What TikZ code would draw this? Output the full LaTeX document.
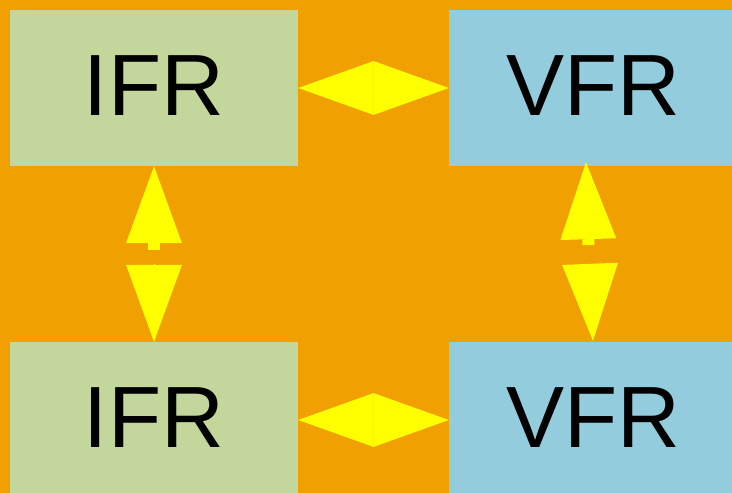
\documentclass[tikz,border=0pt]{standalone}
\usepackage{fontspec}
\setmainfont{Liberation Sans}
\usetikzlibrary{arrows.meta}
\definecolor{bgorange}{HTML}{F0A000}
\definecolor{ifrgreen}{HTML}{C3D69B}
\definecolor{vfrblue}{HTML}{93CDDD}
\definecolor{tipyellow}{HTML}{FFFF00}

\begin{document}
\begin{tikzpicture}[x=1pt,y=-1pt,
	rulebox/.style={shape=rectangle,minimum width=288pt,minimum height=156pt,inner sep=0pt,
		text depth=4pt,font=\fontsize{87}{90}\selectfont},
	harrow/.style={draw=tipyellow,line width=0.1pt,
		{Triangle[length=75.5pt,width=54pt,line width=0pt,color=tipyellow]}-{Triangle[length=75.5pt,width=54pt,line width=0pt,color=tipyellow]}},
	varrow/.style={draw=tipyellow,line width=12pt,
		-{Triangle[length=77pt,width=56pt,line width=0pt,color=tipyellow]}}]

		\clip (0,0) rectangle (732,493);
		\fill[bgorange] (0,0) rectangle (732,493);

		\node[rulebox,fill=ifrgreen] (i1) at (154,88)  {IFR};
		\node[rulebox,fill=vfrblue]  (v1) at (593,88)  {VFR};
		\node[rulebox,fill=ifrgreen] (i2) at (154,420) {IFR};
		\node[rulebox,fill=vfrblue]  (v2) at (593,420) {VFR};

		\coordinate (m1) at (154,250);
		\coordinate (m2) at (154,264);
		\coordinate (m3) at (588.5,245);
		\coordinate (m4) at (590,264);

		\draw[harrow] (i1.east) -- (v1.west);
		\draw[harrow] (i2.east) -- (v2.west);

		\draw[varrow] (m1) -- (i1.south);
		\draw[varrow,line width=0.1pt] (m2) -- (i2.north);
		\draw[varrow] (m3) -- ([xshift=-7pt,yshift=4pt]v1.south);
		\draw[varrow,line width=0.1pt] (m4) -- ([yshift=1pt]v2.north);
		\end{tikzpicture}
\end{document}
